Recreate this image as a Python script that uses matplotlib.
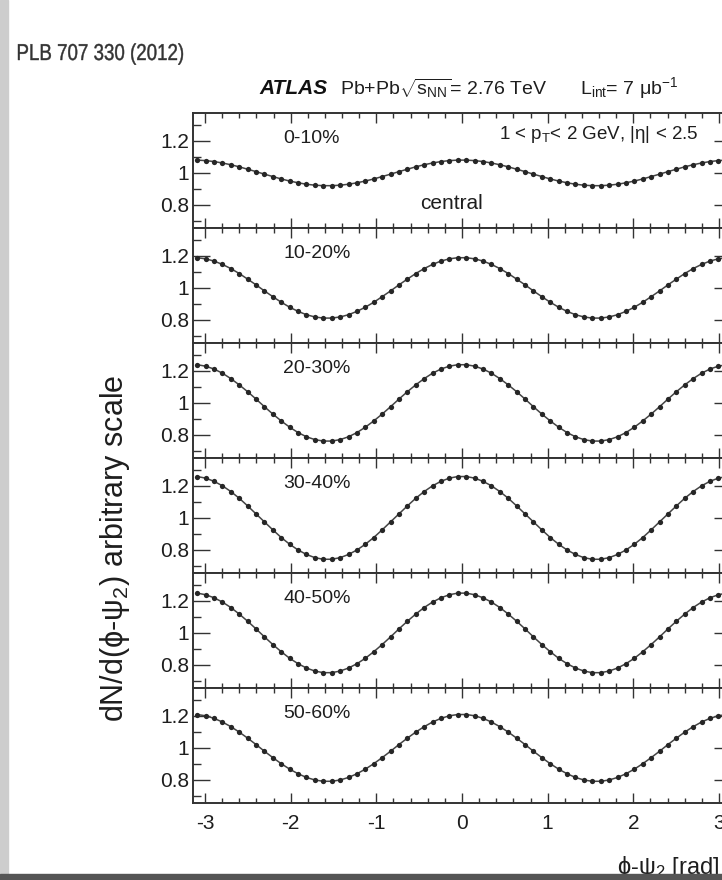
import matplotlib
matplotlib.use("Agg")
import matplotlib.pyplot as plt
from matplotlib.ticker import FixedLocator, MultipleLocator
from matplotlib.textpath import TextPath
from matplotlib.patches import PathPatch
from matplotlib.font_manager import FontProperties
from matplotlib.transforms import Affine2D
import numpy as np

# Centrality classes, one panel each
centralities = ["0-10%", "10-20%", "20-30%", "30-40%", "40-50%", "50-60%"]

# dN/d(phi-psi2), 64 bins over [-pi, pi], arbitrary normalisation
dn_0_10 = [
    1.080, 1.077, 1.071, 1.062, 1.051, 1.038, 1.023, 1.008, 0.992, 0.977, 0.962, 0.949, 0.938, 0.929, 0.923, 0.920,
    0.920, 0.923, 0.929, 0.938, 0.949, 0.962, 0.977, 0.992, 1.008, 1.023, 1.038, 1.051, 1.062, 1.071, 1.077, 1.080,
    1.080, 1.077, 1.071, 1.062, 1.051, 1.038, 1.023, 1.008, 0.992, 0.977, 0.962, 0.949, 0.938, 0.929, 0.923, 0.920,
    0.920, 0.923, 0.929, 0.938, 0.949, 0.962, 0.977, 0.992, 1.008, 1.023, 1.038, 1.051, 1.062, 1.071, 1.077, 1.080,
]
dn_10_20 = [
    1.189, 1.182, 1.168, 1.147, 1.121, 1.090, 1.055, 1.019, 0.981, 0.945, 0.910, 0.879, 0.853, 0.832, 0.818, 0.811,
    0.811, 0.818, 0.832, 0.853, 0.879, 0.910, 0.945, 0.981, 1.019, 1.055, 1.090, 1.121, 1.147, 1.168, 1.182, 1.189,
    1.189, 1.182, 1.168, 1.147, 1.121, 1.090, 1.055, 1.019, 0.981, 0.945, 0.910, 0.879, 0.853, 0.832, 0.818, 0.811,
    0.811, 0.818, 0.832, 0.853, 0.879, 0.910, 0.945, 0.981, 1.019, 1.055, 1.090, 1.121, 1.147, 1.168, 1.182, 1.189,
]
dn_20_30 = [
    1.239, 1.230, 1.212, 1.186, 1.152, 1.113, 1.070, 1.024, 0.976, 0.930, 0.887, 0.848, 0.814, 0.788, 0.770, 0.761,
    0.761, 0.770, 0.788, 0.814, 0.848, 0.887, 0.930, 0.976, 1.024, 1.070, 1.113, 1.152, 1.186, 1.212, 1.230, 1.239,
    1.239, 1.230, 1.212, 1.186, 1.152, 1.113, 1.070, 1.024, 0.976, 0.930, 0.887, 0.848, 0.814, 0.788, 0.770, 0.761,
    0.761, 0.770, 0.788, 0.814, 0.848, 0.887, 0.930, 0.976, 1.024, 1.070, 1.113, 1.152, 1.186, 1.212, 1.230, 1.239,
]
dn_30_40 = [
    1.259, 1.249, 1.229, 1.201, 1.165, 1.123, 1.075, 1.025, 0.975, 0.925, 0.877, 0.835, 0.799, 0.771, 0.751, 0.741,
    0.741, 0.751, 0.771, 0.799, 0.835, 0.877, 0.925, 0.975, 1.025, 1.075, 1.123, 1.165, 1.201, 1.229, 1.249, 1.259,
    1.259, 1.249, 1.229, 1.201, 1.165, 1.123, 1.075, 1.025, 0.975, 0.925, 0.877, 0.835, 0.799, 0.771, 0.751, 0.741,
    0.741, 0.751, 0.771, 0.799, 0.835, 0.877, 0.925, 0.975, 1.025, 1.075, 1.123, 1.165, 1.201, 1.229, 1.249, 1.259,
]
dn_40_50 = [
    1.249, 1.239, 1.220, 1.193, 1.159, 1.118, 1.073, 1.025, 0.975, 0.927, 0.882, 0.841, 0.807, 0.780, 0.761, 0.751,
    0.751, 0.761, 0.780, 0.807, 0.841, 0.882, 0.927, 0.975, 1.025, 1.073, 1.118, 1.159, 1.193, 1.220, 1.239, 1.249,
    1.249, 1.239, 1.220, 1.193, 1.159, 1.118, 1.073, 1.025, 0.975, 0.927, 0.882, 0.841, 0.807, 0.780, 0.761, 0.751,
    0.751, 0.761, 0.780, 0.807, 0.841, 0.882, 0.927, 0.975, 1.025, 1.073, 1.118, 1.159, 1.193, 1.220, 1.239, 1.249,
]
dn_50_60 = [
    1.209, 1.201, 1.185, 1.162, 1.133, 1.099, 1.061, 1.021, 0.979, 0.939, 0.901, 0.867, 0.838, 0.815, 0.799, 0.791,
    0.791, 0.799, 0.815, 0.838, 0.867, 0.901, 0.939, 0.979, 1.021, 1.061, 1.099, 1.133, 1.162, 1.185, 1.201, 1.209,
    1.209, 1.201, 1.185, 1.162, 1.133, 1.099, 1.061, 1.021, 0.979, 0.939, 0.901, 0.867, 0.838, 0.815, 0.799, 0.791,
    0.791, 0.799, 0.815, 0.838, 0.867, 0.901, 0.939, 0.979, 1.021, 1.061, 1.099, 1.133, 1.162, 1.185, 1.201, 1.209,
]
panels = [dn_0_10, dn_10_20, dn_20_30, dn_30_40, dn_40_50, dn_50_60]

y_ticks = [0.8, 1.0, 1.2]
y_tick_labels = ["0.8", "1", "1.2"]
x_ticks = [-3, -2, -1, 0, 1, 2, 3]

plt.rcParams['font.family'] = ['Liberation Sans', 'DejaVu Sans']
plt.rcParams['mathtext.fontset'] = 'custom'
plt.rcParams['mathtext.rm'] = 'Liberation Sans'
plt.rcParams['mathtext.it'] = 'Liberation Sans'
plt.rcParams['axes.unicode_minus'] = False

W, H = 722, 880
fig = plt.figure(figsize=(W / 100, H / 100), dpi=100)

# bin centres
edges = np.linspace(-np.pi, np.pi, len(dn_0_10) + 1)
centers = 0.5 * (edges[1:] + edges[:-1])

frame_col = '#333333'
ink = '#262626'
txt = '#1e1e1e'

# pixel layout of the stacked pads (right edge runs past the image)
left_px, right_px, top_px, bottom_px = 193, 731, 113, 803
pad_h = (bottom_px - top_px) / len(panels)

axes = []
for i, (label, vals) in enumerate(zip(centralities, panels)):
    y0 = 1 - (top_px + (i + 1) * pad_h) / H
    ax = fig.add_axes([left_px / W, y0, (right_px - left_px) / W, pad_h / H])
    ax.plot(centers, vals, '-', color='#444444', lw=1.1, zorder=2)
    ax.plot(centers, vals, 'o', color=ink, ms=3.8, mew=0, zorder=3)

    ax.set_xlim(-np.pi, np.pi)
    ax.set_ylim(0.655, 1.375)
    ax.yaxis.set_major_locator(FixedLocator(y_ticks))
    ax.set_yticklabels(y_tick_labels)
    ax.yaxis.set_minor_locator(MultipleLocator(0.1))
    ax.xaxis.set_major_locator(FixedLocator(x_ticks))
    ax.xaxis.set_minor_locator(MultipleLocator(0.2))

    ax.tick_params(which='both', direction='in', top=True, right=True,
                   color=frame_col, width=1.0, labelsize=15, labelcolor=txt)
    ax.tick_params(axis='y', which='major', length=12, pad=3)
    ax.tick_params(axis='y', which='minor', length=6)
    ax.tick_params(axis='x', which='major', length=7, pad=8)
    ax.tick_params(axis='x', which='minor', length=3.5)
    if i < len(panels) - 1:
        ax.tick_params(axis='x', labelbottom=False)
    for sp in ax.spines.values():
        sp.set_color(frame_col)
        sp.set_linewidth(1.4)

    ax.text(0.168, 0.775, label, transform=ax.transAxes, fontsize=14,
            color=txt, ha='left', va='center')
    axes.append(ax)

# annotations on the top pad
axes[0].text(0.94, 0.81, r"1 < p$_{\rm T}$< 2 GeV, |η| < 2.5", transform=axes[0].transAxes,
             fontsize=13.5, color=txt, ha='right', va='center')
axes[0].text(0.422, 0.217, "central", transform=axes[0].transAxes,
             fontsize=15, color=txt, ha='left', va='center')

# header line
fig.text(259 / W, 1 - 88 / H, "ATLAS", fontsize=15, fontweight='bold', fontstyle='italic',
         color='#111111', ha='left', va='center')
fig.text(340 / W, 1 - 88 / H, r"Pb+Pb$\sqrt{s_{\rm NN}}$= 2.76 TeV", fontsize=14,
         color=txt, ha='left', va='center')
fig.text(580 / W, 1 - 88 / H, r"L$_{\rm int}$= 7 μ$\rm b^{-1}$", fontsize=14,
         color=txt, ha='left', va='center')

# journal reference, drawn as a horizontally squeezed outline (narrow face)
ref_path = TextPath((0, 0), "PLB 707 330 (2012)", size=23,
                    prop=FontProperties(family='Liberation Sans'))
bb = ref_path.get_extents()
sx = 165 / bb.width
ref_tr = Affine2D().translate(-bb.x0, 0).scale(sx, 1.0).translate(18, H - 60)
fig.add_artist(PathPatch(ref_path, transform=ref_tr, facecolor='#333333',
                         edgecolor='#333333', lw=0.3))

# axis titles
fig.text(115 / W, 1 - 375 / H, r"dN/d(ϕ-ψ$_2$) arbitrary scale", rotation=90, fontsize=22,
         color=txt, ha='center', va='top')
fig.text(719 / W, 1 - 867 / H, r"ϕ-ψ$_2$ [rad]", fontsize=17,
         color=txt, ha='right', va='center')

# slide border: grey strip on the left and a dark bar along the bottom
fig.patches.append(plt.Rectangle((0, 0), 8 / W, 1, transform=fig.transFigure,
                                 color='#cdcdcd', zorder=0))
fig.patches.append(plt.Rectangle((0, 0), 1, 6 / H, transform=fig.transFigure,
                                 color='#555555', zorder=5))

fig.savefig("out.png", dpi=100)
